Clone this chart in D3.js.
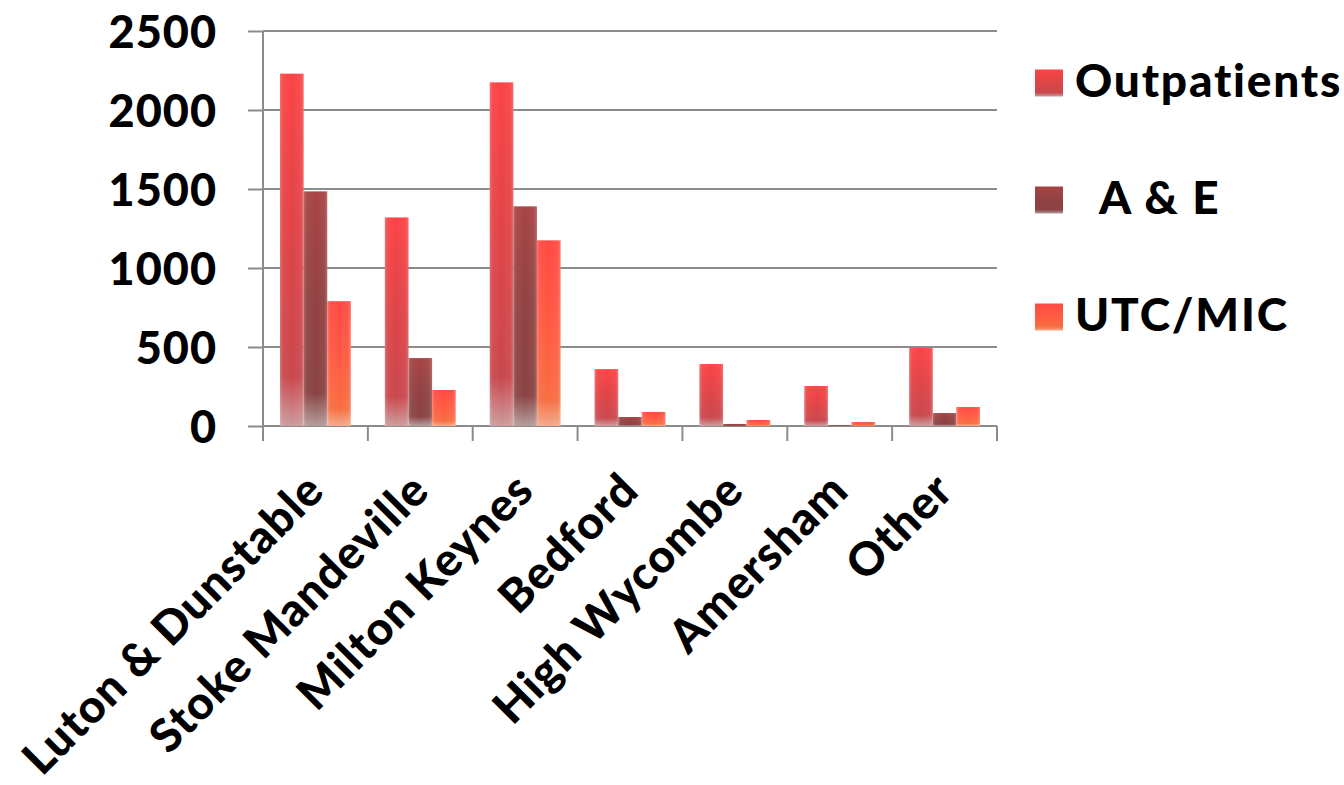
<!DOCTYPE html>
<html>
<head>
<meta charset="utf-8">
<script src="https://cdn.jsdelivr.net/npm/d3@7"></script>
<style>
html,body{margin:0;padding:0;background:#fff;}
svg{display:block;}
text{font-family:"Lato","Noto Sans",sans-serif;font-weight:900;fill:#000;}
</style>
</head>
<body>
<svg id="chart" width="1344" height="785"></svg>
<script>
const categories = ["Luton & Dunstable","Stoke Mandeville","Milton Keynes","Bedford","High Wycombe","Amersham","Other"];
const seriesNames = ["Outpatients","A & E","UTC/MIC"];
const legendLabels = ["Outpatients","  A & E","UTC/MIC"];
const outpatients = [2230,1320,2175,360,392,253,494];
const aAndE = [1485,430,1390,57,13,5,82];
const utcMic = [790,228,1175,89,38,25,120];
const yTicks = [0,500,1000,1500,2000,2500];

const seriesValues = [outpatients, aAndE, utcMic];
const gradStops = [
  [["0%","#fb4446"],["45%","#e04447"],["86%","#c9484d"],["100%","#cc9c9c"]],
  [["0%","#a84444"],["45%","#924242"],["86%","#8a4343"],["100%","#b49c9c"]],
  [["0%","#ff4a44"],["45%","#ff5a42"],["86%","#f86e42"],["100%","#f2aa8c"]]
];

const svg = d3.select("#chart");
const x0 = 263, x1 = 997, yTop = 31, yBase = 426;

const x = d3.scaleBand().domain(categories).range([x0, x1]).paddingInner(0.325).paddingOuter(0.1625);
const xs = d3.scaleBand().domain(seriesNames).range([0, x.bandwidth()]);
const y = d3.scaleLinear().domain([0, 2500]).range([yBase, yTop]);
const xOuter = d3.scaleBand().domain(categories).range([x0, x1]);

const defs = svg.append("defs");
gradStops.forEach((stops, i) => {
  const g = defs.append("linearGradient").attr("id", "g" + i)
    .attr("x1", 0).attr("y1", 0).attr("x2", 0).attr("y2", 1);
  stops.forEach(s => g.append("stop").attr("offset", s[0]).attr("stop-color", s[1]));
});
const hg = defs.append("linearGradient").attr("id", "hl").attr("x1", 0).attr("y1", 0).attr("x2", 1).attr("y2", 0);
[["0%",0.22],["12%",0.05],["50%",0],["88%",0.05],["100%",0.22]].forEach(s =>
  hg.append("stop").attr("offset", s[0]).attr("stop-color", "#fff").attr("stop-opacity", s[1]));

// gridlines
svg.append("g").selectAll("line").data(yTicks).join("line")
  .attr("x1", x0).attr("x2", x1)
  .attr("y1", d => y(d)).attr("y2", d => y(d))
  .attr("stroke", "#8c8c8c").attr("stroke-width", 2);

// y axis
const yAxis = svg.append("g").attr("transform", `translate(${x0},0)`)
  .call(d3.axisLeft(y).tickValues(yTicks).tickSize(15).tickPadding(31).tickFormat(d3.format("d")));
yAxis.select(".domain").attr("stroke", "#8c8c8c").attr("stroke-width", 2).attr("d", `M0,${yTop}V${yBase}`);
yAxis.selectAll(".tick line").attr("stroke", "#8c8c8c").attr("stroke-width", 2);
yAxis.selectAll(".tick text").attr("font-size", 45).attr("font-family", "Lato").attr("font-weight", 900)
  .attr("fill", "#000").attr("dy", "0.36em").style("letter-spacing", "1px");

// x axis ticks at category boundaries
const bounds = categories.map(c => xOuter(c)).concat([x1]);
svg.append("g").selectAll("line").data(bounds).join("line")
  .attr("x1", d => d).attr("x2", d => d).attr("y1", yBase).attr("y2", yBase + 15)
  .attr("stroke", "#8c8c8c").attr("stroke-width", 2);
svg.append("line").attr("x1", x0).attr("x2", x1).attr("y1", yBase).attr("y2", yBase)
  .attr("stroke", "#8c8c8c").attr("stroke-width", 2);

// bars
const rows = [];
categories.forEach((c, ci) => seriesNames.forEach((s, si) => rows.push({c, s, si, v: seriesValues[si][ci]})));
const barG = svg.append("g");
barG.selectAll("rect.bar").data(rows).join("rect").attr("class", "bar")
  .attr("x", d => x(d.c) + xs(d.s)).attr("width", xs.bandwidth())
  .attr("y", d => y(d.v)).attr("height", d => yBase - y(d.v))
  .attr("fill", d => `url(#g${d.si})`);
barG.selectAll("rect.hl").data(rows).join("rect").attr("class", "hl")
  .attr("x", d => x(d.c) + xs(d.s)).attr("width", xs.bandwidth())
  .attr("y", d => y(d.v)).attr("height", d => yBase - y(d.v))
  .attr("fill", "url(#hl)");

// x labels
svg.append("g").selectAll("text").data(categories).join("text")
  .attr("text-anchor", "end")
  .attr("font-size", 46)
  .style("letter-spacing", "1px")
  .attr("transform", d => `translate(${xOuter(d) + xOuter.bandwidth()/2 + 11},${yBase + 67}) rotate(-45)`)
  .text(d => d);

// legend
const leg = svg.append("g");
const legY = [83, 200, 317];
seriesNames.forEach((s, i) => {
  leg.append("rect").attr("x", 1035).attr("y", legY[i] - 13.5).attr("width", 28).attr("height", 27)
    .attr("fill", `url(#g${i})`);
  leg.append("text").attr("x", 1075).attr("y", legY[i] + 14).attr("font-size", 46)
    .attr("xml:space", "preserve").style("white-space", "pre").style("letter-spacing", "1.8px").text(legendLabels[i]);
});
</script>
</body>
</html>
